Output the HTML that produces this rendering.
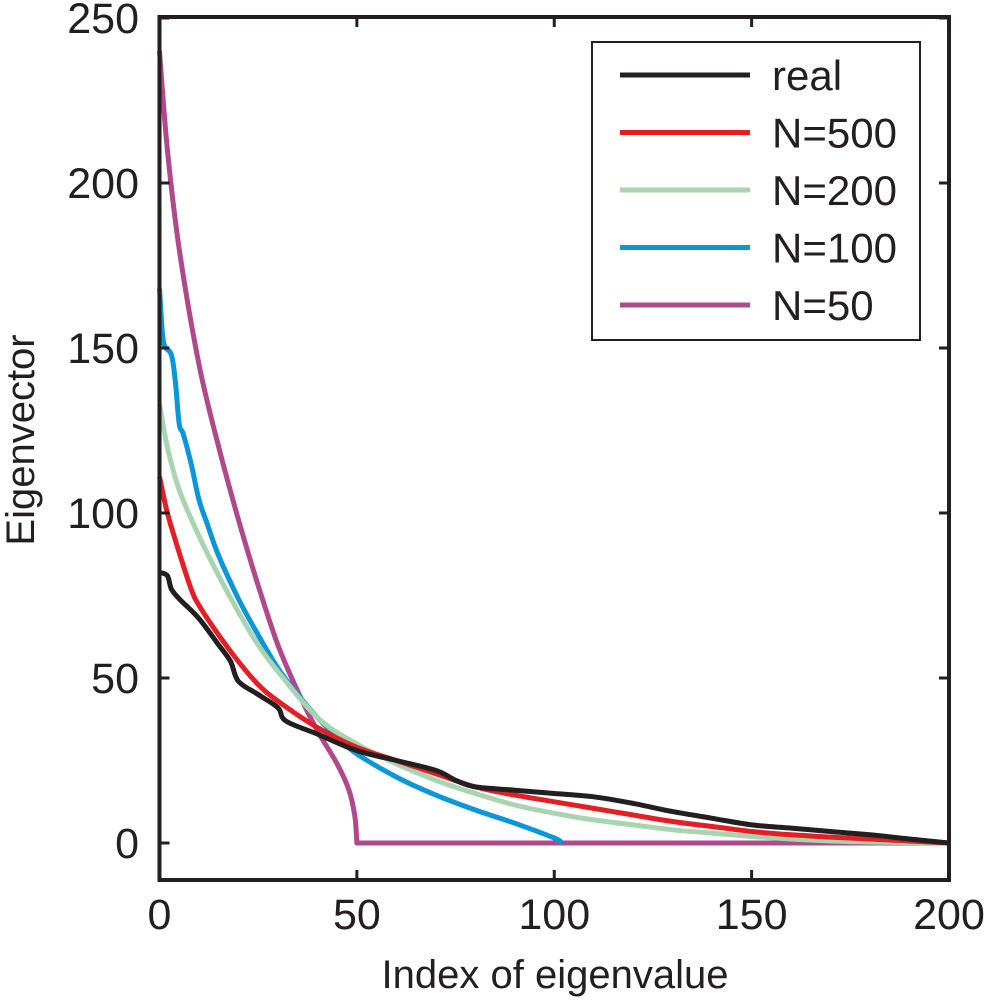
<!DOCTYPE html>
<html><head><meta charset="utf-8"><style>
body{margin:0;background:#fff}
svg text{font-family:"Liberation Sans",sans-serif;fill:#231f20}
</style></head><body>
<svg id="chart" width="988" height="1000" xmlns="http://www.w3.org/2000/svg">
<g id="plot"></g>
</svg>
<script>
const xTicks=[0,50,100,150,200];
const yTicks=[0,50,100,150,200,250];
const seriesNames=["real","N=500","N=200","N=100","N=50"];
const seriesColors=["#231f20","#e31e24","#a8d5b0","#0a96d9","#b0488c"];
const realX=[0,2,3,5,10,15,18,20,25,30,32,40,50,60,70,75,80,90,100,110,120,130,140,150,160,170,180,190,200];
const realY=[82,81,77,74,68,60,55,49,45,41,37,33,28,25,22,19,17,16,15,14,12,9.5,7.5,5.5,4.5,3.5,2.5,1.2,0];
const n500X=[0,2,5,8,10,15,20,25,30,40,50,60,70,80,90,100,110,120,130,140,150,160,170,180,190,200];
const n500Y=[111,100,88,77,72,63,55,48,43,35,29,25,21,17,14.5,12.5,10.5,8.5,6.5,5,3.5,2.5,1.8,1.2,0.6,0];
const n200X=[0,2,5,10,15,20,25,30,40,50,60,70,80,90,100,110,120,130,140,150,160,170,180,200];
const n200Y=[133,120,107,93,81,70,60,52,38,30,24,19,15,11.5,9,7,5.5,4,3,2,1.2,0.6,0.3,0];
const n100X=[0,1,3,4,5,6,8,10,12,15,20,25,30,35,40,45,50,60,70,80,90,100,102];
const n100Y=[168,152,148,140,127,124,115,104,97,87,74,63,53,45,38,32,27,20,14.5,10,6,1.5,0];
const n50X=[0,2,5,10,15,20,25,30,35,40,45,48,49.5,50,200];
const n50Y=[240,210,180,145,120,98,78,60,46,34,24,16,8,0,0];
const allX=[realX,n500X,n200X,n100X,n50X];
const allY=[realY,n500Y,n200Y,n100Y,n50Y];

const L=159.5,R=949,T=17,B=880;
const sx=v=>L+(v-0)/200*(R-L);
const sy=v=>843-(v/250)*(843-18);
const NS="http://www.w3.org/2000/svg";
const g=document.getElementById('plot');
function mk(t,a){const e=document.createElementNS(NS,t);for(const k in a)e.setAttribute(k,a[k]);g.appendChild(e);return e;}
function smooth(px,py){
  let d='M'+px[0].toFixed(1)+','+py[0].toFixed(1);
  for(let i=0;i<px.length-1;i++){
    const i0=Math.max(0,i-1),i3=Math.min(px.length-1,i+2);
    const c1x=px[i]+(px[i+1]-px[i0])/6,c1y=py[i]+(py[i+1]-py[i0])/6;
    const c2x=px[i+1]-(px[i3]-px[i])/6,c2y=py[i+1]-(py[i3]-py[i])/6;
    d+='C'+c1x.toFixed(1)+','+c1y.toFixed(1)+' '+c2x.toFixed(1)+','+c2y.toFixed(1)+' '+px[i+1].toFixed(1)+','+py[i+1].toFixed(1);
  }
  return d;
}
for(let i=allX.length-1;i>=0;i--){
  let px=allX[i].map(sx),py=allY[i].map(sy),d;
  if(i===4){
    const k=px.length-1;
    d=smooth(px.slice(0,k),py.slice(0,k))+'L'+px[k].toFixed(1)+','+py[k].toFixed(1);
  } else d=smooth(px,py);
  const p=mk('path',{d:d,fill:'none',stroke:seriesColors[i],'stroke-width':5,'stroke-linejoin':'round'});
  
  
}
const box=mk('rect',{x:L,y:T,width:R-L,height:B-T,fill:'none',stroke:'#231f20','stroke-width':4});


xTicks.forEach(v=>{
  mk('line',{x1:sx(v),x2:sx(v),y1:B,y2:B-10,stroke:'#231f20','stroke-width':3});
  mk('line',{x1:sx(v),x2:sx(v),y1:T,y2:T+10,stroke:'#231f20','stroke-width':3});
  const t=mk('text',{x:sx(v),y:929,'font-size':43,'text-anchor':'middle'});t.textContent=v;
  
  
});
yTicks.forEach(v=>{
  mk('line',{x1:L,x2:L+10,y1:sy(v),y2:sy(v),stroke:'#231f20','stroke-width':3});
  mk('line',{x1:R,x2:R-10,y1:sy(v),y2:sy(v),stroke:'#231f20','stroke-width':3});
  const t=mk('text',{x:139,y:sy(v)+15,'font-size':43,'text-anchor':'end'});t.textContent=v;
  
  
});
const xt=mk('text',{x:555,y:988,'font-size':40,'text-anchor':'middle'});xt.textContent='Index of eigenvalue';


const yt=mk('text',{x:0,y:0,'font-size':40,'text-anchor':'middle',transform:'translate(34,440) rotate(-90)'});yt.textContent='Eigenvector';


const lb=mk('rect',{x:592,y:42,width:328,height:298,fill:'#fff',stroke:'#231f20','stroke-width':2});


seriesNames.forEach((n,i)=>{
  const y=75+i*57.5;
  const ln=mk('line',{x1:620,x2:750,y1:y,y2:y,stroke:seriesColors[i],'stroke-width':5});
  
  
  const t=mk('text',{x:772,y:y+15,'font-size':42});t.textContent=n;
  
  
});
</script>
</body></html>
